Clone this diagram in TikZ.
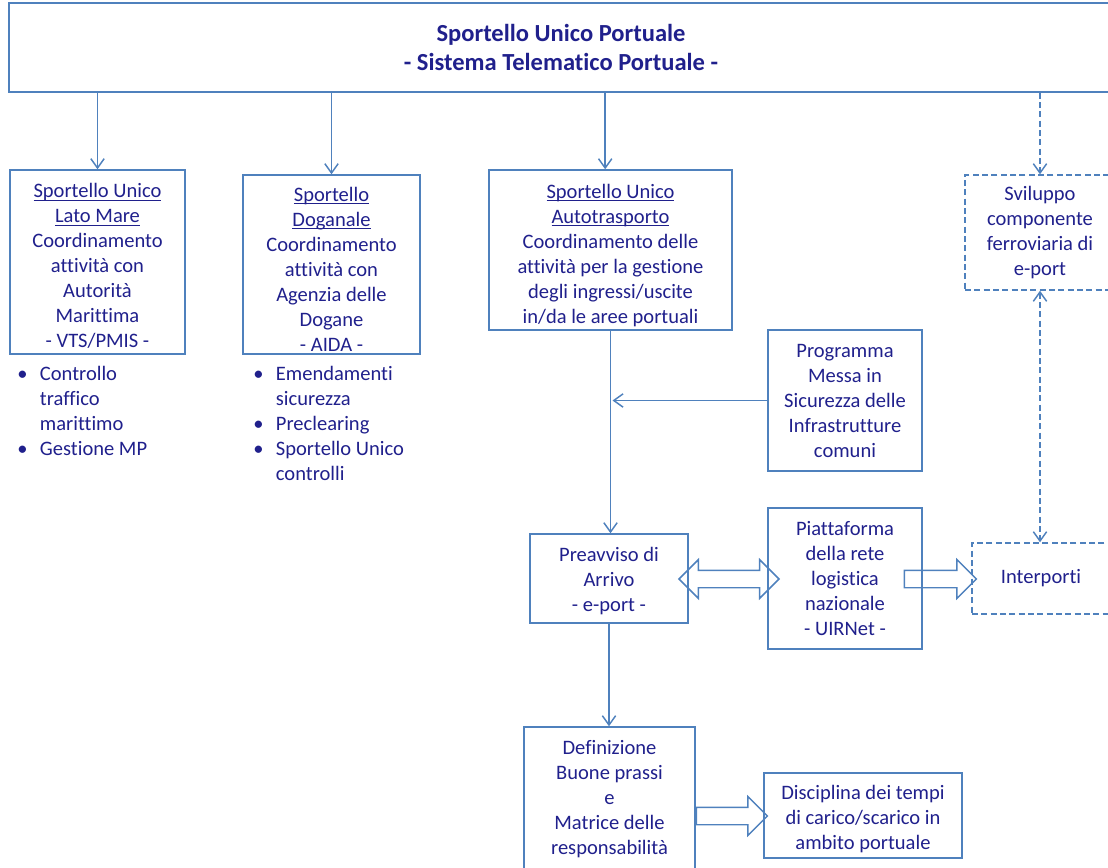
\documentclass[tikz,border=0pt]{standalone}
\usepackage{fontspec}
\setmainfont{Carlito}[Ligatures={NoCommon,NoRequired,NoContextual}]
\usetikzlibrary{positioning}
\usetikzlibrary{arrows.meta}
\usetikzlibrary{shapes.arrows}
\definecolor{lineablu}{RGB}{79,129,189}
\definecolor{testoblu}{RGB}{32,32,140}
\newcommand{\bul}{\makebox[17pt][l]{\textbullet}}
\newcommand{\listind}{\hspace*{17pt}}
\newcommand{\sott}[1]{\underline{\raisebox{0pt}[\height][0pt]{#1}}}
\newcommand{\alza}[1]{\rule{0pt}{#1}}

\begin{document}
\begin{tikzpicture}[x=0.75pt,y=-0.75pt,
  box/.style={draw=lineablu,line width=1.1pt,text=testoblu,align=center,inner sep=0pt,font=\fontsize{15.4}{18.75}\selectfont},
  dbox/.style={box,dash pattern=on 4.5pt off 2.5pt},
  conn/.style={draw=lineablu,line width=1.1pt,-{Straight Barb[length=7pt,width=10pt]}},
  dconn/.style={conn,dash pattern=on 4.5pt off 2.5pt},
  blocco/.style={draw=lineablu,line width=1.1pt,inner xsep=0pt,inner ysep=6pt},
  lista/.style={text=testoblu,align=left,inner sep=0pt,anchor=west,font=\fontsize{15.4}{18.75}\selectfont}]
 \useasboundingbox (0,0) rectangle (1108,868);
 \node[box,minimum width=828pt,minimum height=66.75pt,font=\fontsize{18.4}{21.75}\selectfont\bfseries] (sup) at (561,47.5) {Sportello Unico Portuale\\- Sistema Telematico Portuale -};
 \node[box,minimum width=131.25pt,minimum height=138pt] (mare) at (97.5,262) {\alza{17pt}\sott{Sportello Unico}\\\sott{Lato Mare}\\Coordinamento\\attività con\\Autorità\\Marittima\\- VTS/PMIS -};
 \node[box,minimum width=132.75pt,minimum height=134.25pt] (dogana) at (331.5,264.5) {\alza{18.5pt}\sott{Sportello}\\\sott{Doganale}\\Coordinamento\\attività con\\Agenzia delle\\Dogane\\- AIDA -};
 \node[box,minimum width=182.25pt,minimum height=120pt] (auto) at (610.5,250) {\alza{18.5pt}\sott{Sportello Unico}\\\sott{Autotrasporto}\\Coordinamento delle\\attività per la gestione\\degli ingressi/uscite\\in/da le aree portuali};
 \node[dbox,minimum width=112.5pt,minimum height=86.25pt] (ferro) at (1040,232.5) {Sviluppo\\componente\\ferroviaria di\\e-port};
 \node[box,minimum width=115.5pt,minimum height=105.75pt] (sicur) at (845,400.5) {Programma\\Messa in\\Sicurezza delle\\Infrastrutture\\comuni};
 \node[box,minimum width=118.5pt,minimum height=66.75pt] (preav) at (609,578.5) {\alza{14pt}Preavviso di\\Arrivo\\- e-port -};
 \node[box,minimum width=115.5pt,minimum height=105.75pt] (uirnet) at (845,578.5) {Piattaforma\\della rete\\logistica\\nazionale\\- UIRNet -};
 \node[dbox,minimum width=103.5pt,minimum height=53.25pt] (interp) at (1041,578.5) {Interporti};
 \node[box,minimum width=128.25pt,minimum height=108.75pt] (prassi) at (609.5,799.5) {Definizione\\Buone prassi\\e\\Matrice delle\\responsabilità};
 \node[box,minimum width=148.5pt,minimum height=63.75pt] (tempi) at (863,815.5) {\alza{16pt}Disciplina dei tempi\\di carico/scarico in\\ambito portuale};
 \node[lista] (elenco1) at (17,410.5) {\bul Controllo\\\listind traffico\\\listind marittimo\\\bul Gestione MP};
 \node[lista] (elenco2) at (253,423) {\bul Emendamenti\\\listind sicurezza\\\bul Preclearing\\\bul Sportello Unico\\\listind controlli};
 \node[blocco,double arrow,minimum height=75pt,double arrow head extend=8pt,double arrow tip angle=90] (scambio) at (729,579) {};
 \node[blocco,single arrow,minimum height=54pt,single arrow head extend=8pt,single arrow tip angle=90] (versoint) at (936,579) {};
 \node[blocco,single arrow,minimum height=53.25pt,single arrow head extend=8pt,single arrow tip angle=90] (versotempi) at (727.5,816) {};
 \coordinate (autoin) at ([xshift=-4pt]auto.north);
 \coordinate (innesto) at ([xshift=1.5pt]auto.south |- sicur.west);
 \draw[conn] (sup.south -| mare.north) -- (mare.north);
 \draw[conn] (sup.south -| dogana.north) -- (dogana.north);
 \draw[conn] (sup.south -| autoin) -- (autoin);
 \draw[dconn] (sup.south -| ferro.north) -- (ferro.north);
 \draw[conn] (auto.south) -- (auto.south |- preav.north);
 \draw[conn] (sicur.west) -- (innesto);
 \draw[conn] (preav.south) -- (preav.south |- prassi.north);
 \draw[dconn,{Straight Barb[length=7pt,width=10pt]}-{Straight Barb[length=7pt,width=10pt]}] (ferro.south) -- (ferro.south |- interp.north);
\end{tikzpicture}
\end{document}
